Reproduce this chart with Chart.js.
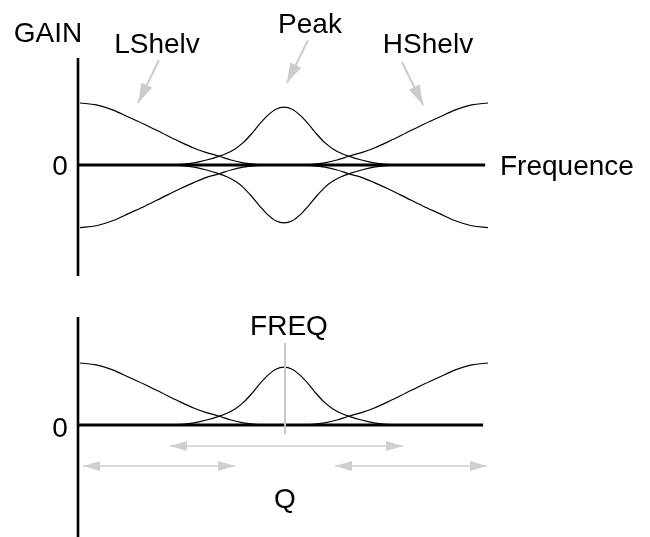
<!DOCTYPE html>
<html>
<head>
<meta charset="utf-8">
<script src="https://cdn.jsdelivr.net/npm/chart.js@4.4.1/dist/chart.umd.min.js"></script>
<style>
  html, body { margin: 0; padding: 0; background: #ffffff; }
  #wrap { position: relative; width: 650px; height: 537px; overflow: hidden; }
  canvas { position: absolute; left: 0; }
  #topC { top: 0; }
  #botC { top: 290px; }
</style>
</head>
<body>
<div id="wrap">
  <canvas id="topC" width="650" height="290"></canvas>
  <canvas id="botC" width="650" height="247"></canvas>
</div>
<script>
// ---------- DATA (frequency 0..100, gain in shelf units) ----------
const lowShelfX   = [0, 4, 8, 12, 16, 20, 24, 28, 31, 34, 37, 40, 43, 46, 49];
const lowBoost    = [1, 0.97, 0.89, 0.77, 0.65, 0.52, 0.39, 0.27, 0.2, 0.145, 0.08, 0.035, 0.01, 0, 0];
const lowCut      = [-1.01, -0.98, -0.9, -0.78, -0.66, -0.53, -0.4, -0.28, -0.2, -0.145, -0.08, -0.035, -0.01, 0, 0];

const peakX       = [22, 25, 28, 31, 34, 36, 38, 40, 42, 44, 46, 48, 50, 52, 54, 56, 58, 60, 62, 64, 66, 69, 72, 75, 78];
const peakBoost   = [0, 0.01, 0.035, 0.08, 0.14, 0.19, 0.26, 0.36, 0.5, 0.66, 0.8, 0.9, 0.935, 0.9, 0.8, 0.66, 0.5, 0.36, 0.26, 0.19, 0.14, 0.08, 0.035, 0.01, 0];
const peakCut     = [0, -0.01, -0.035, -0.08, -0.14, -0.19, -0.26, -0.36, -0.5, -0.66, -0.8, -0.9, -0.935, -0.9, -0.8, -0.66, -0.5, -0.36, -0.26, -0.19, -0.14, -0.08, -0.035, -0.01, 0];

const highShelfX  = [51, 54, 57, 60, 63, 66, 69, 72, 76, 80, 84, 88, 92, 96, 100];
const highBoost   = [0, 0, 0.01, 0.035, 0.08, 0.145, 0.2, 0.27, 0.39, 0.52, 0.65, 0.77, 0.89, 0.97, 1];
const highCut     = [0, 0, -0.01, -0.035, -0.08, -0.145, -0.2, -0.28, -0.4, -0.53, -0.66, -0.78, -0.9, -0.98, -1.01];

// bottom panel (boost only)
const peakBoost2  = [0, 0.01, 0.035, 0.08, 0.14, 0.19, 0.26, 0.36, 0.5, 0.66, 0.8, 0.9, 0.935, 0.9, 0.8, 0.66, 0.5, 0.36, 0.26, 0.19, 0.14, 0.08, 0.035, 0.01, 0];

// axes extents
const topAxisY    = [1.726, -1.79];
const botAxisY    = [1.742, -1.85];
const axisX       = -0.49;
const topZeroEnd  = 99.3;
const botZeroEnd  = 98.8;

// annotation arrows [x0, y0, x1, y1]
const lshelvArrow = [19.36, 1.694, 14.22, 1.0];
const peakArrow   = [55.9, 2.016, 50.7, 1.323];
const hshelvArrow = [78.9, 1.661, 84.1, 0.968];

// FREQ marker and Q spans
const freqMark    = [50.25, 1.323, -0.145];
const qSpanCenter = [22.06, 79.17, -0.339];
const qSpanLow    = [0.74, 38.0, -0.661];
const qSpanHigh   = [62.5, 99.75, -0.661];

// labels
const topLabels = ["GAIN", "LShelv", "Peak", "HShelv", "0", "Frequence"];
const botLabels = ["FREQ", "0", "Q"];

// ---------- helpers ----------
const pts = (xs, ys) => xs.map((x, i) => ({ x: x, y: ys[i] }));
const FONT = '28px "Liberation Sans", Arial, Helvetica, sans-serif';

function curve(data) {
  return { data, borderColor: '#000', borderWidth: 1.2, pointRadius: 0,
           showLine: true, fill: false, cubicInterpolationMode: 'monotone' };
}
function straight(data, color, width, heads) {
  return { data, borderColor: color, borderWidth: width, pointRadius: 0,
           showLine: true, fill: false, tension: 0, arrowHeads: heads || null };
}

const arrowPlugin = {
  id: 'arrowHeads',
  afterDatasetsDraw(chart) {
    const ctx = chart.ctx;
    chart.data.datasets.forEach((ds, i) => {
      if (!ds.arrowHeads) return;
      const els = chart.getDatasetMeta(i).data;
      const a = els[0], b = els[els.length - 1];
      const L = ds.headLen || 17, W = ds.headHalf || 5;
      const draw = (tip, from) => {
        const dx = tip.x - from.x, dy = tip.y - from.y;
        const d = Math.hypot(dx, dy), ux = dx / d, uy = dy / d;
        const bx = tip.x - ux * L, by = tip.y - uy * L;
        ctx.save();
        ctx.fillStyle = ds.borderColor;
        ctx.beginPath();
        ctx.moveTo(tip.x, tip.y);
        ctx.lineTo(bx - uy * W, by + ux * W);
        ctx.lineTo(bx + uy * W, by - ux * W);
        ctx.closePath();
        ctx.fill();
        ctx.restore();
      };
      draw(b, a);
      if (ds.arrowHeads === 'both') draw(a, b);
    });
  }
};

function textPlugin(items) {
  return {
    id: 'texts',
    afterDraw(chart) {
      const ctx = chart.ctx;
      ctx.save();
      ctx.font = FONT;
      ctx.fillStyle = '#000';
      ctx.textBaseline = 'alphabetic';
      items.forEach(t => {
        ctx.textAlign = t.align || 'center';
        ctx.fillText(t.text, t.x, t.y);
      });
      ctx.restore();
    }
  };
}

function baseOptions(xmin, xmax, ymin, ymax) {
  return {
    responsive: false, animation: false,
    layout: { padding: 0, autoPadding: false },
    plugins: { legend: { display: false }, tooltip: { enabled: false } },
    scales: {
      x: { type: 'linear', min: xmin, max: xmax, display: false },
      y: { type: 'linear', min: ymin, max: ymax, display: false }
    },
    events: []
  };
}

// x: unit 0 at px 80, 100 at px 488
const XMIN = -80 / 4.08, XMAX = (650 - 80) / 4.08;

// ---------- top chart ----------
new Chart(document.getElementById('topC'), {
  type: 'scatter',
  data: { datasets: [
    straight(pts([axisX, axisX], topAxisY), '#000', 2.6),
    straight(pts([axisX, topZeroEnd], [0, 0]), '#000', 3),
    curve(pts(lowShelfX, lowBoost)),
    curve(pts(lowShelfX, lowCut)),
    curve(pts(peakX, peakBoost)),
    curve(pts(peakX, peakCut)),
    curve(pts(highShelfX, highBoost)),
    curve(pts(highShelfX, highCut)),
    Object.assign(straight(pts([lshelvArrow[0], lshelvArrow[2]], [lshelvArrow[1], lshelvArrow[3]]), '#cccccc', 2, 'end'), { headLen: 20, headHalf: 6 }),
    Object.assign(straight(pts([peakArrow[0], peakArrow[2]], [peakArrow[1], peakArrow[3]]), '#cccccc', 2, 'end'), { headLen: 20, headHalf: 6 }),
    Object.assign(straight(pts([hshelvArrow[0], hshelvArrow[2]], [hshelvArrow[1], hshelvArrow[3]]), '#cccccc', 2, 'end'), { headLen: 20, headHalf: 6 })
  ]},
  options: baseOptions(XMIN, XMAX, -(290 - 165) / 62, 165 / 62),
  plugins: [arrowPlugin, textPlugin([
    { text: topLabels[0], x: 48, y: 42 },
    { text: topLabels[1], x: 157, y: 53 },
    { text: topLabels[2], x: 310, y: 33 },
    { text: topLabels[3], x: 428, y: 53 },
    { text: topLabels[4], x: 60, y: 175 },
    { text: topLabels[5], x: 500, y: 175, align: 'left' }
  ])]
});

// ---------- bottom chart ----------
new Chart(document.getElementById('botC'), {
  type: 'scatter',
  data: { datasets: [
    straight(pts([axisX, axisX], botAxisY), '#000', 2.6),
    straight(pts([freqMark[0], freqMark[0]], [freqMark[1], freqMark[2]]), '#c8c8c8', 2),
    straight(pts([axisX, botZeroEnd], [0, 0]), '#000', 3),
    curve(pts(lowShelfX, lowBoost)),
    curve(pts(peakX, peakBoost2)),
    curve(pts(highShelfX, highBoost)),
    straight(pts([qSpanCenter[0], qSpanCenter[1]], [qSpanCenter[2], qSpanCenter[2]]), '#d0d0d0', 1.5, 'both'),
    straight(pts([qSpanLow[0], qSpanLow[1]], [qSpanLow[2], qSpanLow[2]]), '#d0d0d0', 1.5, 'both'),
    straight(pts([qSpanHigh[0], qSpanHigh[1]], [qSpanHigh[2], qSpanHigh[2]]), '#d0d0d0', 1.5, 'both')
  ]},
  options: baseOptions(XMIN, XMAX, -(247 - 135) / 62, 135 / 62),
  plugins: [arrowPlugin, textPlugin([
    { text: botLabels[0], x: 289, y: 335 - 290 },
    { text: botLabels[1], x: 60, y: 437 - 290 },
    { text: botLabels[2], x: 285, y: 508 - 290 }
  ])]
});
</script>
</body>
</html>
